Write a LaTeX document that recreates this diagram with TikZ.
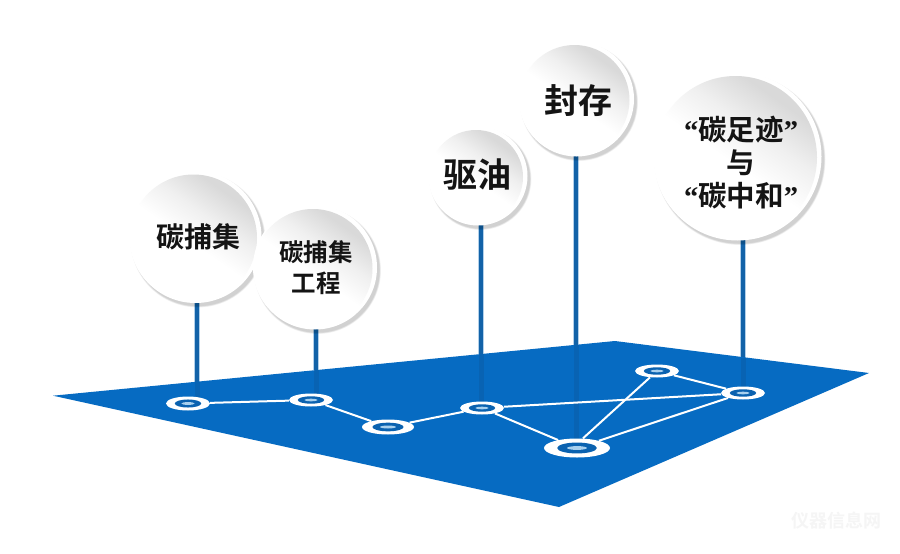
\documentclass[tikz,border=0pt]{standalone}
\usepackage{fontspec}
\newfontfamily\cjk{Noto Sans CJK SC}[BoldFont={* Bold}]
\newfontfamily\qt{Liberation Serif}
\usetikzlibrary{shapes.geometric}
\definecolor{plat}{HTML}{066BC2}
\definecolor{stemc}{HTML}{1262A8}
\definecolor{stemhalo}{HTML}{7FB2DC}
\definecolor{steminner}{HTML}{0A5EA8}
\definecolor{hubc}{HTML}{0A62B0}
\definecolor{hubmid}{HTML}{A8D0EE}
\pgfdeclareverticalshading{ballshade}{100bp}{%
  color(0bp)=(white); color(48bp)=(white); color(60bp)=(white!94!black);
  color(72bp)=(white!85!black); color(100bp)=(white!85!black)}
\tikzset{
  platform/.style={fill=plat,draw=none},
  stemglow/.style={draw=stemhalo,line width=6pt,opacity=.6},
  stemline/.style={draw=stemc,line width=4pt},
  steminside/.style={draw=steminner,line width=5pt,opacity=.55},
  link/.style={draw=white,line width=2pt},
  hubouter/.style={ellipse,fill=white,inner sep=0pt,draw=none},
  hubinner/.style={ellipse,fill=hubc,inner sep=0pt,draw=none},
  hubcore/.style={ellipse,fill=hubmid,inner sep=0pt,draw=none},
  ballbase/.style={circle,fill=white,inner sep=0pt,draw=none},
  ballface/.style={circle,inner sep=0pt,draw=none,shading=ballshade,shading angle=-35},
  balltext/.style={align=center,inner sep=0pt,text=black!92}
}
% name, x, y, rx, ry
\newcommand{\hubnode}[5]{%
  \node[hubouter,minimum width=#4*2pt,minimum height=#5*2pt] (#1) at (#2,#3) {};
  \node[hubinner,minimum width=#4*1.2pt,minimum height=#5*1.15pt] (#1i) at (#2,#3) {};
  \node[hubcore,minimum width=#4*.6pt,minimum height=#5*.4pt] (#1c) at (#2,#3) {};
}
% name, x, y, r
\newcommand{\ball}[4]{%
  \foreach \k in {0,...,5}{
    \fill[black,opacity=.03] (#2+2.5,#3+3) circle ({#4+\k*0.3});
  }
  \node[ballbase,minimum size=#4*2pt] (#1) at (#2,#3) {};
  \node[ballface,minimum size=#4*2pt-5pt] (#1f) at (#2-2,#3+1) {};
}
\begin{document}
\begin{tikzpicture}[x=1pt,y=-1pt]
\useasboundingbox (0,0) rectangle (900,554);
\fill[white] (0,0) rectangle (900,554);

% anchors of the stems
\coordinate (s1) at (197,298);
\coordinate (e1) at (197,381.7);
\coordinate (b1) at (197,398);
\coordinate (s2) at (316,325);
\coordinate (e2) at (316,370.1);
\coordinate (b2) at (316,394);
\coordinate (s3) at (481,220);
\coordinate (e3) at (481,354);
\coordinate (b3) at (481,403);
\coordinate (s4) at (576,150);
\coordinate (e4) at (576,344.8);
\coordinate (b4) at (576,443);
\coordinate (s5) at (743,236);
\coordinate (e5) at (743,357.5);
\coordinate (b5) at (743,389);

\foreach \i in {1,...,5}{
  \draw[stemglow] (s\i) -- (e\i);
  \draw[stemline] (s\i) -- (e\i);
}

\fill[platform] (53,395.7) -- (615,341) -- (869,373) -- (559,507) -- cycle;

\draw[steminside] (e1) -- (b1);
\draw[steminside] (e2) -- (b2);
\draw[steminside] (e3) -- (b3);
\draw[steminside] (e4) -- (b4);
\draw[steminside] (e5) -- (b5);

\hubnode{n1}{188}{403.5}{22}{7}
\hubnode{n2}{311}{400}{22}{6.5}
\hubnode{n3}{388}{427}{26}{7.5}
\hubnode{n4}{482}{408}{22}{6.5}
\hubnode{n5}{577}{448}{33}{9.5}
\hubnode{n6}{657}{371}{22}{6.5}
\hubnode{n7}{743}{393}{22}{6.5}

\draw[link] (n1) -- (n2);
\draw[link] (n2) -- (n3);
\draw[link] (n3) -- (n4);
\draw[link] (n4) -- (n5);
\draw[link] (n4) -- (n7);
\draw[link] ([xshift=6pt]n5.north) -- (n6);
\draw[link] (n5) -- (n7);
\draw[link] (n6) -- (n7);

\ball{c1}{195.5}{237}{66}
\ball{c2}{315}{267.5}{62}
\ball{c3}{478}{176}{49.5}
\ball{c4}{576.5}{99}{57.5}
\ball{c5}{737.5}{156.5}{84}

\node[balltext,font=\cjk\fontsize{28}{33}\selectfont] (t1) at (198,237) {\textbf{碳捕集}};
\node[balltext,font=\cjk\fontsize{24.5}{31}\selectfont] (t2) at (316,267.5) {\textbf{碳捕集}\\\textbf{工程}};
\node[balltext,font=\cjk\fontsize{34}{40}\selectfont] (t3) at (477,174.5) {\textbf{驱油}};
\node[balltext,font=\cjk\fontsize{34}{40}\selectfont] (t4) at (578,101) {\textbf{封存}};
\node[balltext,font=\cjk\fontsize{28.5}{33}\selectfont] (t5) at (741,162.5) {{\qt\bfseries “}\textbf{碳足迹}{\qt\bfseries ”}\\\textbf{与}\\{\qt\bfseries “}\textbf{碳中和}{\qt\bfseries ”}};

\node[text=black!4,font=\cjk\bfseries\fontsize{18}{20}\selectfont,inner sep=0pt] (wm) at (836,521) {仪器信息网};
\end{tikzpicture}
\end{document}
